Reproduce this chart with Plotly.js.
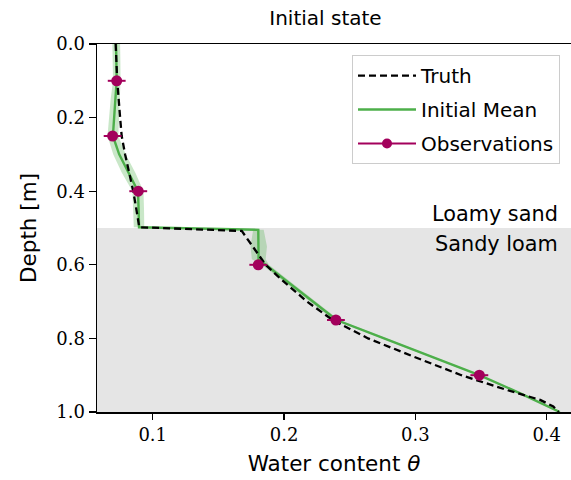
<!DOCTYPE html>
<html>
<head>
<meta charset="utf-8">
<script src="https://cdn.plot.ly/plotly-3.0.1.min.js"></script>
<style>html,body{margin:0;padding:0;background:#fff;}#chart{width:571px;height:480px;}</style>
</head>
<body>
<div id="chart"></div>
<script>
// Truth profile
const truthDepth = [0, 0.1, 0.2, 0.25, 0.3, 0.4, 0.45, 0.498, 0.508, 0.55, 0.58, 0.6, 0.637, 0.7, 0.75, 0.8, 0.85, 0.9, 0.94, 0.967, 0.985, 1.0];
const truthTheta = [0.0718, 0.0730, 0.0752, 0.0764, 0.0790, 0.0852, 0.0876, 0.0898, 0.1678, 0.1760, 0.1817, 0.1860, 0.1970, 0.2175, 0.2370, 0.2640, 0.2990, 0.3350, 0.3695, 0.3950, 0.4050, 0.4090];

// Initial ensemble mean and spread
const meanDepth = [0, 0.05, 0.1, 0.15, 0.2, 0.25, 0.3, 0.35, 0.4, 0.45, 0.498, 0.505, 0.55, 0.585, 0.6, 0.65, 0.7, 0.75, 0.8, 0.85, 0.9, 0.95, 1.0];
const meanTheta = [0.0721, 0.0724, 0.0726, 0.0716, 0.0705, 0.0697, 0.0745, 0.0815, 0.0888, 0.0893, 0.0896, 0.1804, 0.1804, 0.1806, 0.1860, 0.2040, 0.2220, 0.2400, 0.2762, 0.3125, 0.3487, 0.3803, 0.4100];
const ensLower  = [0.0693, 0.0696, 0.0698, 0.0680, 0.0666, 0.0656, 0.0700, 0.0765, 0.0846, 0.0852, 0.0856, 0.1765, 0.1745, 0.1755, 0.1830, 0.2015, 0.2200, 0.2380, 0.2745, 0.3110, 0.3475, 0.3792, 0.4095];
const ensUpper  = [0.0752, 0.0754, 0.0755, 0.0752, 0.0745, 0.0738, 0.0795, 0.0868, 0.0930, 0.0934, 0.0936, 0.1845, 0.1870, 0.1860, 0.1885, 0.2065, 0.2240, 0.2420, 0.2780, 0.3140, 0.3500, 0.3814, 0.4105];

// Observations
const obsDepth = [0.1, 0.25, 0.4, 0.6, 0.75, 0.9];
const obsTheta = [0.0726, 0.0695, 0.0890, 0.1804, 0.2395, 0.3487];
const obsError = [0.0068, 0.0068, 0.0068, 0.0068, 0.0068, 0.0068];

// Layers
const layerNames = ["Loamy sand", "Sandy loam"];
const layerBoundary = [0.5];
const yTicks = [0, 0.2, 0.4, 0.6, 0.8, 1.0];
const xTicks = [0.1, 0.2, 0.3, 0.4];

const purple = "#a3005c";
const green = "#4daf4a";

const bandX = ensLower.concat(ensUpper.slice().reverse());
const bandY = meanDepth.concat(meanDepth.slice().reverse());

const traces = [
  {x: bandX, y: bandY, type: "scatter", mode: "lines", fill: "toself",
   fillcolor: "rgba(77,175,74,0.30)", line: {width: 0}, showlegend: false, hoverinfo: "skip"},
  {x: meanTheta, y: meanDepth, type: "scatter", mode: "lines", name: "Initial Mean",
   line: {color: green, width: 2.4}, legendrank: 2, legendgroup: "b"},
  {x: truthTheta, y: truthDepth, type: "scatter", mode: "lines", name: "Truth",
   line: {color: "black", width: 2.3, dash: "7px,4px"}, legendrank: 1, legendgroup: "a"},
  {x: obsTheta, y: obsDepth, type: "scatter", mode: "markers", name: "Observations",
   marker: {color: purple, size: 11},
   error_x: {type: "data", array: obsError, color: purple, thickness: 2, width: 0},
   showlegend: false, legendgroup: "c"},
  // legend entry for observations (marker with error-bar line)
  {x: [null], y: [null], type: "scatter", mode: "lines+markers", name: "Observations",
   marker: {color: purple, size: 10}, line: {color: purple, width: 2},
   legendrank: 3, legendgroup: "c"}
];

const layout = {
  width: 571, height: 480,
  margin: {l: 97, r: 0, t: 44, b: 68},
  paper_bgcolor: "white", plot_bgcolor: "white",
  font: {family: "DejaVu Sans", size: 19, color: "black"},
  title: {text: "Initial state", x: 0.570, xanchor: "center", y: 0.962, yanchor: "middle",
          font: {family: "DejaVu Sans", size: 20, color: "black"}},
  xaxis: {range: [0.0576, 0.4185], tickvals: xTicks, tickformat: ".1f",
          ticks: "outside", ticklen: 6, tickwidth: 1.3, tickcolor: "black",
          showline: true, linecolor: "black", linewidth: 1.5, mirror: true,
          showgrid: false, zeroline: false,
          tickfont: {family: "DejaVu Serif", size: 18, color: "black"},
          title: {text: "Water content <i>θ</i>", standoff: 12,
                  font: {family: "DejaVu Sans", size: 21.5, color: "black"}}},
  yaxis: {range: [1.0, 0.0], tickvals: yTicks, tickformat: ".1f",
          ticks: "outside", ticklen: 7, tickwidth: 1.3, tickcolor: "black",
          showline: true, linecolor: "black", linewidth: 1.5, mirror: true,
          showgrid: false, zeroline: false,
          tickfont: {family: "DejaVu Serif", size: 18, color: "black"},
          title: {text: "Depth [m]", standoff: 13,
                  font: {family: "DejaVu Sans", size: 21.5, color: "black"}}},
  shapes: [{type: "rect", xref: "paper", yref: "y", x0: 0, x1: 1,
            y0: layerBoundary[0], y1: 1.0, fillcolor: "#e5e5e5", line: {width: 0}, layer: "below"}],
  annotations: [
    {text: layerNames[0], xref: "paper", yref: "y", x: 0.9770, y: 0.462, xanchor: "right", yanchor: "middle",
     showarrow: false, font: {family: "DejaVu Sans", size: 20.8, color: "black"}},
    {text: layerNames[1], xref: "paper", yref: "y", x: 0.9770, y: 0.543, xanchor: "right", yanchor: "middle",
     showarrow: false, font: {family: "DejaVu Sans", size: 20.8, color: "black"}}
  ],
  legend: {x: 0.9768, y: 0.9700, xanchor: "right", yanchor: "top",
           bgcolor: "rgba(255,255,255,0.85)", bordercolor: "#cccccc", borderwidth: 1,
           traceorder: "grouped", tracegroupgap: 5, itemwidth: 58,
           font: {family: "DejaVu Sans", size: 20, color: "black"}},
  showlegend: true
};

Plotly.newPlot("chart", traces, layout, {displayModeBar: false, staticPlot: true});
</script>
</body>
</html>
